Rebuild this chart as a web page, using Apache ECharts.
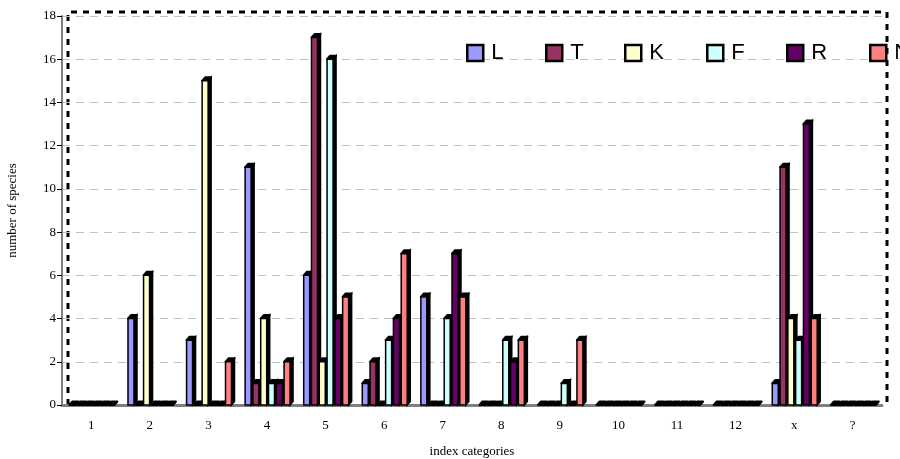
<!DOCTYPE html>
<html>
<head>
<meta charset="utf-8">
<script src="https://cdn.jsdelivr.net/npm/echarts@6/dist/echarts.min.js"></script>
<style>html,body{margin:0;padding:0;background:#fff}#main{width:900px;height:459px}</style>
</head>
<body>
<div id="main"></div>
<script>
var categories = ['1', '2', '3', '4', '5', '6', '7', '8', '9', '10', '11', '12', 'x', '?'];
var seriesNames = ['L', 'T', 'K', 'F', 'R', 'N'];
var seriesColors = ['#9999FF', '#993366', '#FFFFCC', '#CCFFFF', '#660066', '#FF8080'];
var L = [0, 4, 3, 11, 6, 1, 5, 0, 0, 0, 0, 0, 1, 0];
var T = [0, 0, 0, 1, 17, 2, 0, 0, 0, 0, 0, 0, 11, 0];
var K = [0, 6, 15, 4, 2, 0, 0, 0, 0, 0, 0, 0, 4, 0];
var F = [0, 0, 0, 1, 16, 3, 4, 3, 1, 0, 0, 0, 3, 0];
var R = [0, 0, 0, 1, 4, 4, 7, 2, 0, 0, 0, 0, 13, 0];
var N = [0, 0, 2, 2, 5, 7, 5, 3, 3, 0, 0, 0, 4, 0];
var values = [L, T, K, F, R, N];

var myChart = echarts.init(document.getElementById('main'));

var DX = 3, DY = 3.5;

// old excel 3d column: coloured front face + black top and side faces
function makeRenderer(s, color) {
    return function (params, api) {
        var cat = api.value(0);
        var base = api.coord([cat, 0]);
        var top = api.coord([cat, api.value(1)]);
        var band = api.size([1, 0])[0];
        var p = band * 0.133;
        var x0 = base[0] - 3 * p + 1.5 + s * p;
        var w = p - 1.8;
        var y0 = top[1], y1 = base[1];
        return {
            type: 'group',
            children: [
                {
                    type: 'polygon',
                    shape: { points: [[x0 + w, y0], [x0 + w + DX, y0 - DY], [x0 + w + DX, y1 - DY], [x0 + w, y1]] },
                    style: { fill: '#000', stroke: '#000', lineWidth: 1.5 }
                },
                {
                    type: 'polygon',
                    shape: { points: [[x0, y0], [x0 + DX, y0 - DY], [x0 + w + DX, y0 - DY], [x0 + w, y0]] },
                    style: { fill: '#000', stroke: '#000', lineWidth: 2, lineJoin: 'round' }
                },
                {
                    type: 'rect',
                    shape: { x: x0, y: y0, width: w, height: y1 - y0 },
                    style: { fill: color, stroke: '#000', lineWidth: 1.5 }
                }
            ]
        };
    };
}

var series1 = [];
for (var i = 0; i < seriesNames.length; i++) {
    var d = [];
    for (var k = 0; k < categories.length; k++) {
        d.push([k, values[i][k]]);
    }
    series1.push({
        name: seriesNames[i],
        type: 'custom',
        renderItem: makeRenderer(i, seriesColors[i]),
        encode: { x: 0, y: 1 },
        itemStyle: { color: seriesColors[i] },
        data: d
    });
}

// excel puts the legend items at a fixed pitch, one legend per item here
var legendLeft = [466, 545, 624, 706, 786, 869];
var legends = [];
for (var j = 0; j < seriesNames.length; j++) {
    legends.push({
        left: legendLeft[j],
        top: 42,
        padding: 0,
        itemWidth: 16,
        itemHeight: 16,
        itemGap: 0,
        icon: 'rect',
        data: [seriesNames[j]],
        itemStyle: { borderColor: '#000', borderWidth: 2.5 },
        textStyle: { fontFamily: 'Liberation Sans', fontSize: 22, color: '#000', padding: [0, 0, 0, 3] }
    });
}

// back wall of the 3d look, left/top/right only
var wall = [[68, 405], [68, 12], [887, 12], [887, 405]];

var option = {
    animation: false,
    backgroundColor: '#fff',
    grid: { left: 62, right: 18, top: 16, bottom: 54, outerBoundsMode: 'none' },
    legend: legends,
    graphic: [{
        type: 'polyline',
        z: 0,
        shape: { points: wall },
        style: { fill: null, stroke: '#000', lineWidth: 3, lineDash: [6, 6] }
    }],
    xAxis: {
        type: 'category',
        data: categories,
        name: 'index categories',
        nameLocation: 'middle',
        nameGap: 40,
        nameTextStyle: { fontFamily: 'Liberation Serif', fontSize: 13, color: '#000' },
        axisLine: { lineStyle: { color: '#808080', width: 3 } },
        axisTick: { length: 6, lineStyle: { color: '#000' } },
        axisLabel: { fontFamily: 'Liberation Serif', fontSize: 13, color: '#000', margin: 14 }
    },
    yAxis: {
        type: 'value',
        min: 0,
        max: 18,
        interval: 2,
        name: 'number of species',
        nameLocation: 'middle',
        nameGap: 43,
        nameTextStyle: { fontFamily: 'Liberation Serif', fontSize: 13, color: '#000' },
        axisLine: { show: true, lineStyle: { color: '#808080', width: 2 } },
        axisTick: { show: true, length: 5, lineStyle: { color: '#000' } },
        axisLabel: { fontFamily: 'Liberation Serif', fontSize: 13, color: '#000', margin: 6 },
        splitLine: { lineStyle: { color: '#c0c0c0', type: [8, 6], width: 1 } }
    },
    series: series1
};

myChart.setOption(option);
</script>
</body>
</html>
